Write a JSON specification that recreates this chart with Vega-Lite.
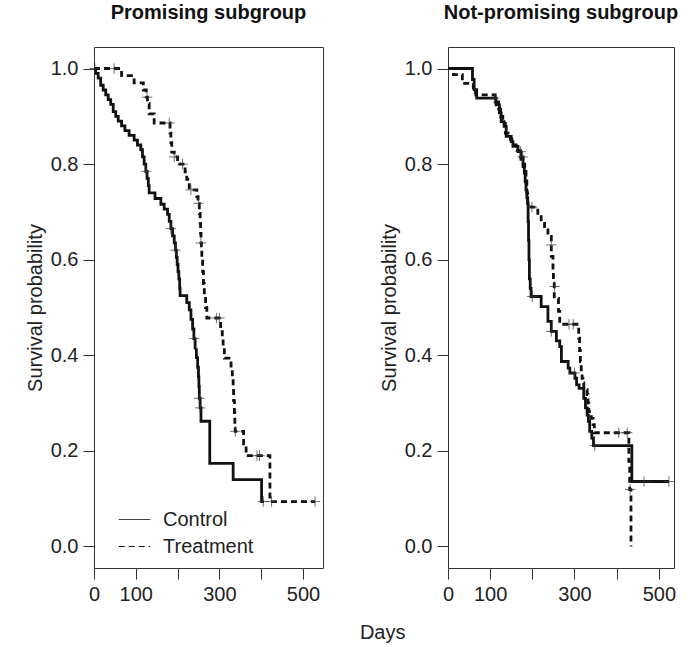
{
  "$schema": "https://vega.github.io/schema/vega-lite/v6.json",
  "padding": {"left": 24, "top": 2, "right": 5, "bottom": 2},
  "background": "white",
  "title": {"text": "Days", "orient": "bottom", "anchor": "middle", "fontSize": 20, "fontWeight": "normal", "font": "Liberation Sans", "offset": 18, "dx": 31, "color": "#222"},
  "spacing": 54,
  "config": {
    "font": "Liberation Sans",
    "view": {"stroke": "#333", "strokeWidth": 1},
    "axis": {"grid": false, "domain": false, "tickSize": 11, "tickColor": "#333", "labelColor": "#222", "titleColor": "#222", "labelFontSize": 20, "titleFontSize": 20, "titleFontWeight": "normal", "labelFont": "Liberation Sans", "titleFont": "Liberation Sans"},
    "axisX": {"labelPadding": 5, "labelFlush": false, "labelOverlap": false},
    "axisY": {"labelPadding": 5, "titlePadding": 5},
    "title": {"fontSize": 20, "fontWeight": "bold", "font": "Liberation Sans", "offset": 24, "color": "#111"}
  },
  "resolve": {"scale": {"strokeDash": "independent", "x": "independent"}, "legend": {"strokeDash": "independent"}},
  "datasets": {
    "curves": [
      {"panel":"L","group":"Control","time":0,"surv":1.0},{"panel":"L","group":"Control","time":4,"surv":0.99},{"panel":"L","group":"Control","time":10,"surv":0.98},{"panel":"L","group":"Control","time":16,"surv":0.965},{"panel":"L","group":"Control","time":22,"surv":0.955},{"panel":"L","group":"Control","time":28,"surv":0.945},{"panel":"L","group":"Control","time":34,"surv":0.935},{"panel":"L","group":"Control","time":40,"surv":0.925},{"panel":"L","group":"Control","time":46,"surv":0.91},{"panel":"L","group":"Control","time":52,"surv":0.9},{"panel":"L","group":"Control","time":58,"surv":0.89},{"panel":"L","group":"Control","time":66,"surv":0.88},{"panel":"L","group":"Control","time":74,"surv":0.87},{"panel":"L","group":"Control","time":84,"surv":0.86},{"panel":"L","group":"Control","time":96,"surv":0.85},{"panel":"L","group":"Control","time":104,"surv":0.84},{"panel":"L","group":"Control","time":112,"surv":0.83},{"panel":"L","group":"Control","time":116,"surv":0.815},{"panel":"L","group":"Control","time":120,"surv":0.8},{"panel":"L","group":"Control","time":124,"surv":0.785},{"panel":"L","group":"Control","time":127,"surv":0.77},{"panel":"L","group":"Control","time":130,"surv":0.755},{"panel":"L","group":"Control","time":132,"surv":0.74},{"panel":"L","group":"Control","time":146,"surv":0.728},{"panel":"L","group":"Control","time":160,"surv":0.716},{"panel":"L","group":"Control","time":168,"surv":0.706},{"panel":"L","group":"Control","time":176,"surv":0.695},{"panel":"L","group":"Control","time":180,"surv":0.68},{"panel":"L","group":"Control","time":184,"surv":0.665},{"panel":"L","group":"Control","time":188,"surv":0.65},{"panel":"L","group":"Control","time":192,"surv":0.635},{"panel":"L","group":"Control","time":195,"surv":0.62},{"panel":"L","group":"Control","time":197,"surv":0.605},{"panel":"L","group":"Control","time":199,"surv":0.59},{"panel":"L","group":"Control","time":201,"surv":0.575},{"panel":"L","group":"Control","time":203,"surv":0.56},{"panel":"L","group":"Control","time":205,"surv":0.54},{"panel":"L","group":"Control","time":206,"surv":0.525},{"panel":"L","group":"Control","time":222,"surv":0.51},{"panel":"L","group":"Control","time":228,"surv":0.495},{"panel":"L","group":"Control","time":232,"surv":0.475},{"panel":"L","group":"Control","time":236,"surv":0.455},{"panel":"L","group":"Control","time":239,"surv":0.435},{"panel":"L","group":"Control","time":242,"surv":0.415},{"panel":"L","group":"Control","time":245,"surv":0.395},{"panel":"L","group":"Control","time":248,"surv":0.375},{"panel":"L","group":"Control","time":250,"surv":0.355},{"panel":"L","group":"Control","time":251,"surv":0.335},{"panel":"L","group":"Control","time":252,"surv":0.31},{"panel":"L","group":"Control","time":254,"surv":0.29},{"panel":"L","group":"Control","time":256,"surv":0.262},{"panel":"L","group":"Control","time":277,"surv":0.174},{"panel":"L","group":"Control","time":333,"surv":0.14},{"panel":"L","group":"Control","time":401,"surv":0.094},{"panel":"L","group":"Control","time":407,"surv":0.094},
      {"panel":"L","group":"Treatment","time":0,"surv":1.0},{"panel":"L","group":"Treatment","time":66,"surv":0.985},{"panel":"L","group":"Treatment","time":96,"surv":0.97},{"panel":"L","group":"Treatment","time":118,"surv":0.955},{"panel":"L","group":"Treatment","time":125,"surv":0.94},{"panel":"L","group":"Treatment","time":128,"surv":0.927},{"panel":"L","group":"Treatment","time":132,"surv":0.905},{"panel":"L","group":"Treatment","time":144,"surv":0.886},{"panel":"L","group":"Treatment","time":182,"surv":0.865},{"panel":"L","group":"Treatment","time":184,"surv":0.845},{"panel":"L","group":"Treatment","time":186,"surv":0.825},{"panel":"L","group":"Treatment","time":192,"surv":0.815},{"panel":"L","group":"Treatment","time":200,"surv":0.8},{"panel":"L","group":"Treatment","time":218,"surv":0.784},{"panel":"L","group":"Treatment","time":222,"surv":0.768},{"panel":"L","group":"Treatment","time":228,"surv":0.746},{"panel":"L","group":"Treatment","time":246,"surv":0.732},{"panel":"L","group":"Treatment","time":249,"surv":0.718},{"panel":"L","group":"Treatment","time":252,"surv":0.697},{"panel":"L","group":"Treatment","time":254,"surv":0.676},{"panel":"L","group":"Treatment","time":255,"surv":0.655},{"panel":"L","group":"Treatment","time":256,"surv":0.635},{"panel":"L","group":"Treatment","time":257,"surv":0.62},{"panel":"L","group":"Treatment","time":258,"surv":0.6},{"panel":"L","group":"Treatment","time":260,"surv":0.575},{"panel":"L","group":"Treatment","time":262,"surv":0.55},{"panel":"L","group":"Treatment","time":264,"surv":0.525},{"panel":"L","group":"Treatment","time":267,"surv":0.5},{"panel":"L","group":"Treatment","time":270,"surv":0.478},{"panel":"L","group":"Treatment","time":303,"surv":0.457},{"panel":"L","group":"Treatment","time":307,"surv":0.436},{"panel":"L","group":"Treatment","time":309,"surv":0.415},{"panel":"L","group":"Treatment","time":312,"surv":0.394},{"panel":"L","group":"Treatment","time":328,"surv":0.373},{"panel":"L","group":"Treatment","time":331,"surv":0.352},{"panel":"L","group":"Treatment","time":333,"surv":0.33},{"panel":"L","group":"Treatment","time":334,"surv":0.305},{"panel":"L","group":"Treatment","time":336,"surv":0.28},{"panel":"L","group":"Treatment","time":337,"surv":0.255},{"panel":"L","group":"Treatment","time":338,"surv":0.241},{"panel":"L","group":"Treatment","time":358,"surv":0.215},{"panel":"L","group":"Treatment","time":364,"surv":0.19},{"panel":"L","group":"Treatment","time":421,"surv":0.094},{"panel":"L","group":"Treatment","time":529,"surv":0.094},
      {"panel":"R","group":"Control","time":0,"surv":1.0},{"panel":"R","group":"Control","time":58,"surv":0.977},{"panel":"R","group":"Control","time":62,"surv":0.956},{"panel":"R","group":"Control","time":68,"surv":0.938},{"panel":"R","group":"Control","time":114,"surv":0.924},{"panel":"R","group":"Control","time":122,"surv":0.907},{"panel":"R","group":"Control","time":126,"surv":0.889},{"panel":"R","group":"Control","time":133,"surv":0.879},{"panel":"R","group":"Control","time":138,"surv":0.858},{"panel":"R","group":"Control","time":150,"surv":0.847},{"panel":"R","group":"Control","time":154,"surv":0.837},{"panel":"R","group":"Control","time":166,"surv":0.826},{"panel":"R","group":"Control","time":173,"surv":0.81},{"panel":"R","group":"Control","time":178,"surv":0.795},{"panel":"R","group":"Control","time":181,"surv":0.781},{"panel":"R","group":"Control","time":183,"surv":0.763},{"panel":"R","group":"Control","time":185,"surv":0.746},{"panel":"R","group":"Control","time":187,"surv":0.73},{"panel":"R","group":"Control","time":189,"surv":0.718},{"panel":"R","group":"Control","time":190,"surv":0.68},{"panel":"R","group":"Control","time":191,"surv":0.64},{"panel":"R","group":"Control","time":192,"surv":0.6},{"panel":"R","group":"Control","time":193,"surv":0.56},{"panel":"R","group":"Control","time":195,"surv":0.54},{"panel":"R","group":"Control","time":197,"surv":0.523},{"panel":"R","group":"Control","time":221,"surv":0.502},{"panel":"R","group":"Control","time":237,"surv":0.471},{"panel":"R","group":"Control","time":245,"surv":0.45},{"panel":"R","group":"Control","time":257,"surv":0.43},{"panel":"R","group":"Control","time":265,"surv":0.418},{"panel":"R","group":"Control","time":269,"surv":0.387},{"panel":"R","group":"Control","time":285,"surv":0.373},{"panel":"R","group":"Control","time":289,"surv":0.363},{"panel":"R","group":"Control","time":301,"surv":0.352},{"panel":"R","group":"Control","time":305,"surv":0.338},{"panel":"R","group":"Control","time":311,"surv":0.331},{"panel":"R","group":"Control","time":322,"surv":0.31},{"panel":"R","group":"Control","time":326,"surv":0.29},{"panel":"R","group":"Control","time":330,"surv":0.275},{"panel":"R","group":"Control","time":333,"surv":0.262},{"panel":"R","group":"Control","time":336,"surv":0.241},{"panel":"R","group":"Control","time":341,"surv":0.227},{"panel":"R","group":"Control","time":345,"surv":0.211},{"panel":"R","group":"Control","time":436,"surv":0.136},{"panel":"R","group":"Control","time":524,"surv":0.136},
      {"panel":"R","group":"Treatment","time":0,"surv":1.0},{"panel":"R","group":"Treatment","time":13,"surv":0.987},{"panel":"R","group":"Treatment","time":34,"surv":0.969},{"panel":"R","group":"Treatment","time":60,"surv":0.95},{"panel":"R","group":"Treatment","time":66,"surv":0.945},{"panel":"R","group":"Treatment","time":112,"surv":0.93},{"panel":"R","group":"Treatment","time":120,"surv":0.915},{"panel":"R","group":"Treatment","time":125,"surv":0.9},{"panel":"R","group":"Treatment","time":130,"surv":0.885},{"panel":"R","group":"Treatment","time":136,"surv":0.865},{"panel":"R","group":"Treatment","time":148,"surv":0.852},{"panel":"R","group":"Treatment","time":155,"surv":0.84},{"panel":"R","group":"Treatment","time":165,"surv":0.828},{"panel":"R","group":"Treatment","time":172,"surv":0.815},{"panel":"R","group":"Treatment","time":178,"surv":0.8},{"panel":"R","group":"Treatment","time":182,"surv":0.785},{"panel":"R","group":"Treatment","time":185,"surv":0.765},{"panel":"R","group":"Treatment","time":187,"surv":0.74},{"panel":"R","group":"Treatment","time":189,"surv":0.718},{"panel":"R","group":"Treatment","time":197,"surv":0.71},{"panel":"R","group":"Treatment","time":213,"surv":0.697},{"panel":"R","group":"Treatment","time":221,"surv":0.68},{"panel":"R","group":"Treatment","time":229,"surv":0.669},{"panel":"R","group":"Treatment","time":237,"surv":0.649},{"panel":"R","group":"Treatment","time":245,"surv":0.607},{"panel":"R","group":"Treatment","time":249,"surv":0.579},{"panel":"R","group":"Treatment","time":250,"surv":0.554},{"panel":"R","group":"Treatment","time":252,"surv":0.519},{"panel":"R","group":"Treatment","time":262,"surv":0.492},{"panel":"R","group":"Treatment","time":265,"surv":0.465},{"panel":"R","group":"Treatment","time":310,"surv":0.436},{"panel":"R","group":"Treatment","time":312,"surv":0.41},{"panel":"R","group":"Treatment","time":314,"surv":0.387},{"panel":"R","group":"Treatment","time":316,"surv":0.366},{"panel":"R","group":"Treatment","time":318,"surv":0.352},{"panel":"R","group":"Treatment","time":320,"surv":0.342},{"panel":"R","group":"Treatment","time":322,"surv":0.328},{"panel":"R","group":"Treatment","time":330,"surv":0.318},{"panel":"R","group":"Treatment","time":332,"surv":0.3},{"panel":"R","group":"Treatment","time":334,"surv":0.282},{"panel":"R","group":"Treatment","time":340,"surv":0.268},{"panel":"R","group":"Treatment","time":344,"surv":0.255},{"panel":"R","group":"Treatment","time":347,"surv":0.238},{"panel":"R","group":"Treatment","time":429,"surv":0.178},{"panel":"R","group":"Treatment","time":431,"surv":0.119},{"panel":"R","group":"Treatment","time":434,"surv":0.0}
    ],
    "censors": [
      {"panel":"L","group":"Control","time":2,"surv":1.0},{"panel":"L","group":"Control","time":125,"surv":0.785},{"panel":"L","group":"Control","time":184,"surv":0.665},{"panel":"L","group":"Control","time":195,"surv":0.62},{"panel":"L","group":"Control","time":240,"surv":0.435},{"panel":"L","group":"Control","time":252,"surv":0.31},{"panel":"L","group":"Control","time":254,"surv":0.29},{"panel":"L","group":"Control","time":405,"surv":0.094},
      {"panel":"L","group":"Treatment","time":48,"surv":1.0},{"panel":"L","group":"Treatment","time":127,"surv":0.94},{"panel":"L","group":"Treatment","time":180,"surv":0.886},{"panel":"L","group":"Treatment","time":192,"surv":0.815},{"panel":"L","group":"Treatment","time":212,"surv":0.8},{"panel":"L","group":"Treatment","time":232,"surv":0.746},{"panel":"L","group":"Treatment","time":250,"surv":0.718},{"panel":"L","group":"Treatment","time":256,"surv":0.635},{"panel":"L","group":"Treatment","time":293,"surv":0.478},{"panel":"L","group":"Treatment","time":300,"surv":0.478},{"panel":"L","group":"Treatment","time":338,"surv":0.241},{"panel":"L","group":"Treatment","time":390,"surv":0.19},{"panel":"L","group":"Treatment","time":396,"surv":0.19},{"panel":"L","group":"Treatment","time":425,"surv":0.094},{"panel":"L","group":"Treatment","time":529,"surv":0.094},
      {"panel":"R","group":"Control","time":110,"surv":0.938},{"panel":"R","group":"Control","time":172,"surv":0.826},{"panel":"R","group":"Control","time":200,"surv":0.523},{"panel":"R","group":"Control","time":245,"surv":0.45},{"panel":"R","group":"Control","time":300,"surv":0.363},{"panel":"R","group":"Control","time":348,"surv":0.211},{"panel":"R","group":"Control","time":465,"surv":0.136},{"panel":"R","group":"Control","time":524,"surv":0.136},
      {"panel":"R","group":"Treatment","time":177,"surv":0.815},{"panel":"R","group":"Treatment","time":199,"surv":0.71},{"panel":"R","group":"Treatment","time":245,"surv":0.631},{"panel":"R","group":"Treatment","time":253,"surv":0.544},{"panel":"R","group":"Treatment","time":287,"surv":0.465},{"panel":"R","group":"Treatment","time":297,"surv":0.465},{"panel":"R","group":"Treatment","time":405,"surv":0.238},{"panel":"R","group":"Treatment","time":425,"surv":0.238},{"panel":"R","group":"Treatment","time":432,"surv":0.119}
    ]
  },
  "hconcat": [
    {
      "width": 229, "height": 521,
      "title": {"text": "Promising subgroup"},
      "layer": [
        {
          "data": {"name": "curves"},
          "transform": [{"filter": "datum.panel == 'L'"}],
          "mark": {"type": "line", "interpolate": "step-after", "strokeWidth": 2.8, "color": "#111"},
          "encoding": {
            "x": {"field": "time", "type": "quantitative", "title": null, "scale": {"domain": [0, 548], "nice": false, "zero": false},
                  "axis": {"values": [0, 100, 200, 300, 400, 500], "labelExpr": "datum.value == 200 || datum.value == 400 ? '' : datum.label"}},
            "y": {"field": "surv", "type": "quantitative", "title": "Survival probability", "scale": {"domain": [-0.045, 1.045], "nice": false, "zero": false},
                  "axis": {"values": [0, 0.2, 0.4, 0.6, 0.8, 1.0], "format": ".1f"}},
            "strokeDash": {"field": "group", "type": "nominal",
              "scale": {"domain": ["Control", "Treatment"], "range": [[1, 0], [6, 4]]},
              "legend": {"orient": "none", "legendX": 24, "legendY": 456, "title": null, "symbolType": "stroke", "symbolSize": 1000, "symbolStrokeWidth": 1, "symbolStrokeColor": "#111", "labelFontSize": 20, "labelOffset": 12, "rowPadding": -6, "labelColor": "#222", "labelFont": "Liberation Sans"}}
          }
        },
        {
          "data": {"name": "censors"},
          "transform": [{"filter": "datum.panel == 'L'"}],
          "mark": {"type": "point", "shape": "M-1,0H1M0,-1V1", "filled": false, "size": 110, "strokeWidth": 1, "color": "#333"},
          "encoding": {
            "x": {"field": "time", "type": "quantitative", "scale": {"domain": [0, 548], "nice": false, "zero": false}},
            "y": {"field": "surv", "type": "quantitative", "scale": {"domain": [-0.045, 1.045], "nice": false, "zero": false}}
          }
        }
      ]
    },
    {
      "width": 226, "height": 521,
      "title": {"text": "Not-promising subgroup"},
      "layer": [
        {
          "data": {"name": "curves"},
          "transform": [{"filter": "datum.panel == 'R'"}],
          "mark": {"type": "line", "interpolate": "step-after", "strokeWidth": 2.8, "color": "#111"},
          "encoding": {
            "x": {"field": "time", "type": "quantitative", "title": null, "scale": {"domain": [0, 536], "nice": false, "zero": false},
                  "axis": {"values": [0, 100, 200, 300, 400, 500], "labelExpr": "datum.value == 200 || datum.value == 400 ? '' : datum.label"}},
            "y": {"field": "surv", "type": "quantitative", "title": "Survival probability", "scale": {"domain": [-0.045, 1.045], "nice": false, "zero": false},
                  "axis": {"values": [0, 0.2, 0.4, 0.6, 0.8, 1.0], "format": ".1f"}},
            "strokeDash": {"field": "group", "type": "nominal",
              "scale": {"domain": ["Control", "Treatment"], "range": [[1, 0], [6, 4]]},
              "legend": null}
          }
        },
        {
          "data": {"name": "censors"},
          "transform": [{"filter": "datum.panel == 'R'"}],
          "mark": {"type": "point", "shape": "M-1,0H1M0,-1V1", "filled": false, "size": 110, "strokeWidth": 1, "color": "#333"},
          "encoding": {
            "x": {"field": "time", "type": "quantitative", "scale": {"domain": [0, 536], "nice": false, "zero": false}},
            "y": {"field": "surv", "type": "quantitative", "scale": {"domain": [-0.045, 1.045], "nice": false, "zero": false}}
          }
        }
      ]
    }
  ]
}
